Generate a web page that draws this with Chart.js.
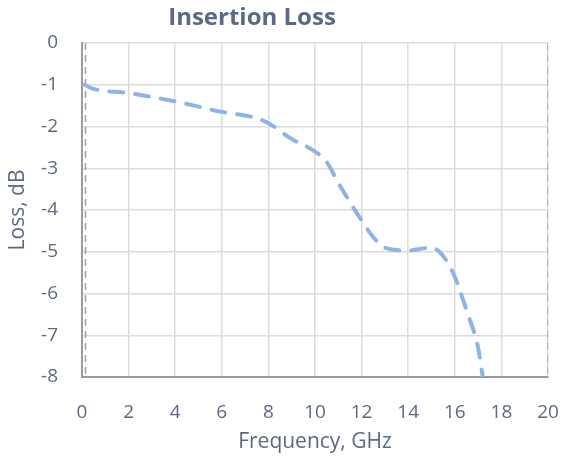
<!DOCTYPE html>
<html>
<head>
<meta charset="utf-8">
<script src="https://cdn.jsdelivr.net/npm/chart.js@4"></script>
<style>
  body { margin: 0; background: #fff; }
  #wrap { width: 561px; height: 462px; }
</style>
</head>
<body>
<div id="wrap"><canvas id="myChart"></canvas></div>
<script>
// frequency (GHz) and loss (dB)
const freq = [0.1, 0.5, 2, 4, 6, 7.5, 8, 9, 10, 10.5, 11, 12, 12.5, 13, 14, 15, 15.5, 16, 16.5, 17, 17.2];
const loss = [-1.0, -1.1, -1.2, -1.4, -1.65, -1.8, -1.92, -2.3, -2.6, -2.85, -3.35, -4.25, -4.65, -4.9, -4.97, -4.9, -5.1, -5.6, -6.4, -7.3, -8.0];
const xTicks = [0, 2, 4, 6, 8, 10, 12, 14, 16, 18, 20];
const yTicks = [0, -1, -2, -3, -4, -5, -6, -7, -8];
const markerLeft = [0.15, 0.15];
const markerRight = [20, 20];
const markerY = [0, -8];

const textColor = '#5d6883';
const font = 'Open Sans';

// the title sits a bit left of centre in the original, so draw it by hand
const titlePlugin = {
    id: 'leftTitle',
    afterDraw(chart) {
        const c = chart.ctx;
        c.save();
        c.font = 'bold 24px "' + font + '"';
        c.fillStyle = textColor;
        c.textAlign = 'center';
        c.textBaseline = 'middle';
        c.fillText('Insertion Loss', 252, 18);
        c.restore();
    }
};

function createChart(){
    const ctx = document.getElementById('myChart');

    const lossPoints = freq.map((f, i) => ({x: f, y: loss[i]}));
    const marker = (xs) => xs.map((x, i) => ({x: x, y: markerY[i]}));

    const data = {
        datasets: [
            {
            label: 'Insertion Loss',
            data: lossPoints,
            borderColor: '#8fb3e2',
            borderWidth: 4,
            borderDash: [14, 12],
            borderCapStyle: 'round',
            pointRadius: 0,
            cubicInterpolationMode: 'monotone',
            },
            {
            label: 'left',
            data: marker(markerLeft),
            borderColor: '#a0a0a0',
            borderWidth: 1.5,
            borderDash: [7, 5],
            pointRadius: 0,
            },
            {
            label: 'right',
            data: marker(markerRight),
            borderColor: '#a0a0a0',
            borderWidth: 1.5,
            borderDash: [7, 5],
            pointRadius: 0,
            },
        ]
    };

    const config = {
        type: 'line',
        data: data,
        plugins: [titlePlugin],
        options: {
            responsive: true,
            maintainAspectRatio: false,
            animation: false,
            layout: {
                padding: {left: 5, right: 0, top: 43, bottom: 0}
            },
            plugins: {
                legend: { display: false },
                tooltip: { enabled: false },
                title: { display: false }
            },
            scales: {
                x: {
                    type: 'linear',
                    min: 0,
                    max: 20,
                    afterBuildTicks: (axis) => { axis.ticks = xTicks.map(v => ({value: v})); },
                    afterFit: (axis) => { axis.height = 85; axis.paddingLeft = 0; axis.paddingRight = 13; },
                    grid: { color: '#dcdcdc', lineWidth: 1.5, drawTicks: false },
                    border: { color: '#9a9a9a', width: 2 },
                    ticks: { color: textColor, padding: 24, font: { family: font, size: 19 } },
                    title: {
                        display: true,
                        text: 'Frequency, GHz',
                        color: textColor,
                        font: { family: font, size: 21 },
                        padding: { top: 0, bottom: 7 }
                    }
                },
                y: {
                    min: -8,
                    max: 0,
                    afterBuildTicks: (axis) => { axis.ticks = yTicks.map(v => ({value: v})); },
                    afterFit: (axis) => { axis.width = 77; },
                    grid: { color: '#dcdcdc', lineWidth: 1.5, drawTicks: false },
                    border: { color: '#9a9a9a', width: 2 },
                    ticks: { color: textColor, padding: 24, font: { family: font, size: 19 } },
                    title: {
                        display: true,
                        text: 'Loss, dB',
                        color: textColor,
                        font: { family: font, size: 21 },
                        padding: { top: 0, bottom: 0 }
                    }
                }
            }
        }
    };

    new Chart(ctx, config);
}

createChart();
</script>
</body>
</html>
